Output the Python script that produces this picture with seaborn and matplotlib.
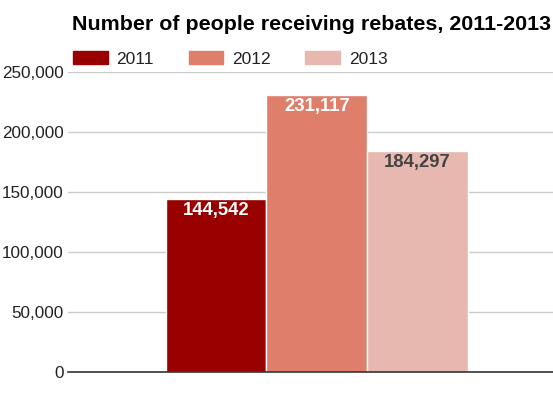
import pandas as pd
import matplotlib.pyplot as plt
import seaborn as sns
from matplotlib.ticker import FuncFormatter

# Data
years = ["2011", "2012", "2013"]
people = [144542, 231117, 184297]
bar_colors = ["#990000", "#de7e6b", "#e6b8af"]
label_colors = ["white", "white", "#444444"]

df = pd.DataFrame({"group": ["all"] * 3, "year": years, "people": people})

sns.set_style("white")
plt.rcParams["font.family"] = ["Liberation Sans", "DejaVu Sans"]

fig = plt.figure(figsize=(5.53, 3.98), dpi=100)
ax = fig.add_axes([0.123, 0.0653, 0.877, 0.7537])

sns.barplot(data=df, x="group", y="people", hue="year", palette=bar_colors,
            width=0.623, gap=0, edgecolor="white", linewidth=1, saturation=1,
            legend=False, ax=ax)

ax.set_ylim(0, 250000)
ax.set_xlim(-0.513, 0.487)
ax.set_yticks(range(0, 250001, 50000))
ax.yaxis.set_major_formatter(FuncFormatter(lambda v, p: f"{int(v):,}"))
ax.tick_params(axis="y", labelsize=12.3, labelcolor="#222222", length=0, pad=3)
ax.set_xticks([])
ax.set_xlabel("")
ax.set_ylabel("")
ax.grid(axis="y", color="#cccccc", linewidth=1)
ax.set_axisbelow(True)
for s in ["top", "right", "left"]:
    ax.spines[s].set_visible(False)
ax.spines["bottom"].set_color("#333333")
ax.spines["bottom"].set_linewidth(1.2)

# value labels inside bar tops
for bar, val, col in zip(ax.patches, people, label_colors):
    ax.annotate(f"{val:,}", (bar.get_x() + bar.get_width() / 2, val),
                xytext=(0, -2.5), textcoords="offset points",
                ha="center", va="top", fontsize=13.3, fontweight="bold", color=col)

fig.text(0.564, 0.938, "Number of people receiving rebates, 2011-2013",
         ha="center", va="center", fontsize=15.4, fontweight="bold", color="black")

handles = [plt.Rectangle((0, 0), 1, 1, color=c) for c in bar_colors]
fig.legend(handles, years, loc="upper left", bbox_to_anchor=(0.132, 0.872),
           ncol=3, frameon=False, fontsize=12.5, handlelength=2.0, handleheight=0.8,
           handletextpad=0.5, columnspacing=2.0, labelcolor="#222222",
           borderaxespad=0, borderpad=0)

fig.savefig("out.png", dpi=100)
